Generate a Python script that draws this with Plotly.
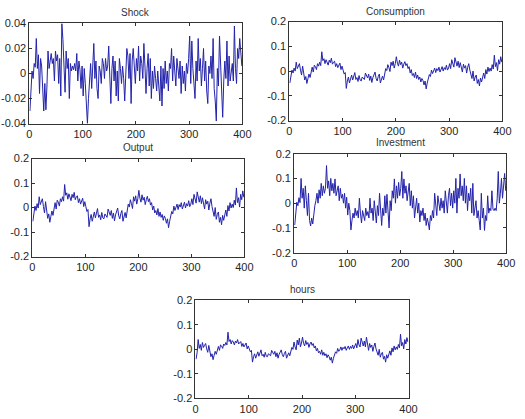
import plotly.graph_objects as go

periods = list(range(1, 400, 2))

shock = [
    -0.030, -0.012, 0.002, -0.004, 0.008, 0.005, 0.028, 0.004, 0.015, -0.016,
    0.012, 0.006, -0.018, -0.030, -0.008, -0.029, -0.010, 0.018, 0.004, 0.010,
    0.016, 0.008, 0.012, -0.006, 0.018, 0.010, 0.015, -0.008, 0.012, -0.018,
    0.040, 0.027, 0.006, -0.015, 0.018, 0.004, 0.012, -0.020, 0.008, 0.002,
    0.006, 0.003, 0.008, 0.002, 0.016, -0.006, 0.010, 0.003, -0.012, 0.006,
    -0.018, 0.004, -0.008, -0.025, -0.040, -0.020, -0.006, 0.008, -0.012, 0.014,
    0.024, -0.004, 0.010, -0.012, -0.020, 0.006, 0.002, -0.008, 0.012, 0.008,
    -0.004, 0.012, 0.002, 0.006, 0.022, -0.002, -0.024, 0.004, 0.014, -0.006,
    0.010, -0.018, 0.002, -0.022, 0.012, 0.004, -0.008, 0.006, -0.004, -0.022,
    0.006, 0.020, 0.014, -0.004, 0.016, -0.024, 0.010, 0.020, 0.006, -0.008,
    0.012, 0.002, 0.022, -0.006, 0.014, 0.008, -0.004, 0.024, 0.006, -0.016,
    0.004, 0.016, -0.010, 0.012, -0.020, 0.002, -0.012, 0.006, -0.004, -0.014,
    0.002, -0.010, -0.022, 0.006, -0.026, 0.004, -0.012, 0.010, -0.008, 0.002,
    -0.014, 0.008, 0.004, 0.020, -0.006, 0.014, 0.002, -0.010, 0.012, 0.004,
    -0.004, 0.010, -0.016, 0.006, -0.008, 0.002, -0.014, 0.008, 0.000, 0.012,
    0.030, -0.008, 0.026, 0.004, -0.012, -0.020, 0.010, -0.006, 0.028, 0.002,
    0.012, -0.010, 0.004, 0.020, -0.006, 0.010, -0.014, -0.024, 0.006, 0.000,
    0.014, -0.004, 0.028, -0.012, -0.022, -0.038, 0.004, -0.010, 0.030, 0.002,
    -0.020, -0.035, -0.006, 0.010, -0.004, 0.026, -0.010, 0.014, -0.006, 0.002,
    0.008, -0.006, 0.038, 0.004, -0.008, 0.020, 0.012, 0.028, 0.016, 0.006,
]

consumption = [
    -0.048, -0.020, 0.004, -0.008, 0.012, 0.000, 0.036, 0.010, 0.022, 0.030,
    0.004, -0.016, 0.020, -0.010, -0.036, -0.022, -0.050, -0.030, -0.012, -0.026,
    0.002, 0.016, -0.004, 0.024, 0.018, 0.006, 0.030, 0.020, 0.036, 0.022,
    0.078, 0.042, 0.050, 0.030, 0.046, 0.038, 0.024, 0.044, 0.034, 0.052,
    0.028, 0.036, 0.040, 0.018, 0.030, 0.014, 0.026, 0.032, 0.006, 0.020,
    0.004, -0.012, -0.006, -0.070, -0.040, -0.024, -0.048, -0.030, -0.016, -0.036,
    -0.022, -0.006, -0.034, -0.026, -0.042, -0.018, -0.036, -0.040, -0.024, -0.030,
    -0.034, -0.008, -0.022, -0.028, -0.012, -0.038, -0.020, -0.046, -0.026, -0.016,
    -0.004, -0.030, -0.040, -0.022, -0.012, -0.048, -0.030, -0.020, -0.036, -0.014,
    0.010, 0.002, 0.026, 0.014, -0.002, 0.036, 0.022, 0.040, 0.012, 0.030,
    0.058, 0.032, 0.020, 0.044, 0.026, 0.036, 0.012, 0.028, 0.038, 0.022,
    0.030, 0.010, 0.018, -0.008, 0.006, -0.018, -0.010, -0.026, -0.004, -0.030,
    -0.016, -0.034, -0.024, -0.044, -0.030, -0.038, -0.056, -0.040, -0.072, -0.048,
    -0.030, -0.014, -0.022, 0.004, -0.010, -0.002, 0.012, -0.006, 0.010, 0.002,
    0.016, -0.004, 0.008, 0.018, 0.000, 0.014, 0.006, 0.024, 0.004, 0.012,
    0.030, 0.010, 0.046, 0.024, 0.016, 0.054, 0.030, 0.020, 0.040, 0.014,
    0.034, 0.020, -0.004, 0.028, 0.012, 0.022, -0.008, 0.016, 0.030, 0.004,
    -0.010, -0.030, 0.000, -0.040, -0.024, -0.016, -0.050, -0.034, -0.060, -0.028,
    -0.044, -0.020, -0.008, -0.030, 0.006, -0.012, 0.016, -0.002, 0.012, 0.000,
    0.026, 0.008, 0.064, 0.018, 0.034, 0.002, 0.046, 0.028, 0.058, 0.036,
]

output = [
    -0.056, -0.022, 0.006, -0.012, 0.016, -0.002, 0.044, 0.012, 0.028, 0.036,
    0.004, -0.022, 0.024, -0.014, -0.044, -0.026, -0.060, -0.036, -0.014, -0.032,
    0.002, 0.020, -0.006, 0.030, 0.022, 0.006, 0.036, 0.024, 0.044, 0.026,
    0.094, 0.050, 0.060, 0.034, 0.056, 0.044, 0.028, 0.054, 0.040, 0.062,
    0.032, 0.044, 0.048, 0.020, 0.036, 0.014, 0.032, 0.038, 0.004, 0.024,
    0.004, -0.016, -0.008, -0.078, -0.046, -0.028, -0.056, -0.034, -0.018, -0.042,
    -0.024, -0.004, -0.040, -0.030, -0.050, -0.020, -0.042, -0.046, -0.026, -0.034,
    -0.040, -0.006, -0.026, -0.032, -0.012, -0.044, -0.022, -0.054, -0.030, -0.016,
    -0.002, -0.034, -0.046, -0.024, -0.012, -0.056, -0.034, -0.020, -0.042, -0.014,
    0.014, 0.002, 0.032, 0.016, -0.004, 0.044, 0.026, 0.048, 0.014, 0.036,
    0.070, 0.038, 0.022, 0.052, 0.030, 0.042, 0.012, 0.032, 0.046, 0.024,
    0.036, 0.010, 0.020, -0.010, 0.006, -0.022, -0.012, -0.030, -0.004, -0.036,
    -0.018, -0.040, -0.028, -0.052, -0.034, -0.044, -0.064, -0.046, -0.082, -0.056,
    -0.034, -0.016, -0.026, 0.006, -0.012, -0.002, 0.014, -0.008, 0.012, 0.002,
    0.020, -0.006, 0.010, 0.022, -0.002, 0.016, 0.006, 0.028, 0.004, 0.014,
    0.036, 0.012, 0.054, 0.028, 0.018, 0.064, 0.034, 0.022, 0.048, 0.016,
    0.040, 0.022, -0.006, 0.032, 0.014, 0.026, -0.010, 0.018, 0.036, 0.004,
    -0.012, -0.036, 0.000, -0.048, -0.028, -0.018, -0.060, -0.040, -0.070, -0.032,
    -0.052, -0.024, -0.010, -0.036, 0.008, -0.014, 0.020, -0.002, 0.014, 0.000,
    0.030, 0.010, 0.080, 0.020, 0.040, 0.002, 0.054, 0.032, 0.068, 0.042,
]

investment = [
    -0.088, -0.030, 0.004, -0.010, 0.022, 0.002, 0.100, 0.020, 0.060, -0.020,
    0.070, 0.010, -0.050, 0.040, -0.070, -0.092, -0.060, -0.084, -0.030, -0.010,
    0.010, 0.040, 0.000, 0.054, 0.020, 0.080, 0.030, 0.070, 0.040, 0.060,
    0.152, 0.060, 0.090, 0.030, 0.100, 0.050, 0.080, 0.040, 0.098, 0.030,
    0.050, 0.070, 0.010, 0.060, 0.020, 0.036, 0.000, 0.040, -0.020, 0.024,
    -0.048, 0.000, -0.030, -0.108, -0.070, -0.040, -0.060, -0.020, -0.050, -0.030,
    -0.060, 0.020, -0.040, -0.080, -0.030, -0.056, -0.070, -0.020, -0.050, -0.034,
    -0.060, 0.020, -0.040, -0.020, -0.070, 0.010, -0.030, -0.080, -0.010, -0.050,
    0.040, -0.060, -0.090, -0.020, -0.050, 0.030, -0.040, 0.036, -0.060, -0.100,
    0.010, -0.030, 0.050, 0.020, 0.098, 0.000, 0.070, 0.020, 0.084, 0.030,
    0.060, 0.128, 0.020, 0.098, 0.040, 0.070, 0.010, 0.060, 0.080, -0.010,
    0.050, -0.020, 0.030, -0.060, -0.010, 0.020, -0.040, 0.000, -0.076, -0.030,
    -0.050, -0.020, -0.070, -0.040, -0.090, -0.060, -0.080, -0.108, -0.050, -0.070,
    -0.030, -0.060, 0.040, -0.020, -0.050, 0.030, 0.000, -0.030, 0.020, -0.020,
    0.010, -0.040, 0.050, 0.000, -0.040, 0.030, 0.060, -0.010, 0.040, -0.020,
    0.050, 0.000, 0.100, -0.040, 0.060, 0.020, 0.118, 0.030, 0.070, 0.010,
    0.100, 0.000, 0.070, -0.030, 0.040, 0.010, 0.060, -0.040, 0.080, -0.050,
    -0.020, 0.010, -0.060, -0.030, -0.070, -0.108, 0.040, -0.060, -0.020, -0.110,
    -0.050, -0.070, 0.030, -0.040, -0.020, -0.030, 0.050, -0.024, -0.030, -0.020,
    -0.030, 0.020, 0.128, 0.000, 0.040, 0.100, 0.020, 0.070, 0.120, 0.050,
]

hours = [
    -0.040, -0.014, 0.040, 0.004, 0.020, -0.004, 0.028, 0.008, 0.016, 0.024,
    0.002, -0.012, 0.016, -0.008, -0.030, -0.018, -0.042, -0.024, -0.008, -0.020,
    0.002, 0.012, -0.004, 0.018, 0.014, 0.004, 0.022, 0.016, 0.028, 0.018,
    0.070, 0.032, 0.040, 0.022, 0.036, 0.030, 0.018, 0.034, 0.026, 0.040,
    0.022, 0.028, 0.032, 0.012, 0.024, 0.010, 0.020, 0.026, 0.002, 0.014,
    0.002, -0.010, -0.004, -0.052, -0.030, -0.018, -0.036, -0.022, -0.010, -0.028,
    -0.016, -0.002, -0.026, -0.020, -0.032, -0.012, -0.028, -0.030, -0.018, -0.022,
    -0.026, -0.004, -0.016, -0.020, -0.008, -0.030, -0.014, -0.036, -0.020, -0.010,
    -0.002, -0.022, -0.030, -0.016, -0.008, -0.036, -0.022, -0.014, -0.026, -0.010,
    0.008, 0.000, 0.030, 0.010, -0.002, 0.038, 0.018, 0.046, 0.010, 0.026,
    0.050, 0.024, 0.014, 0.036, 0.020, 0.028, 0.008, 0.022, 0.030, 0.016,
    0.024, 0.006, 0.014, -0.006, 0.004, -0.014, -0.008, -0.020, -0.002, -0.024,
    -0.012, -0.026, -0.018, -0.034, -0.022, -0.030, -0.044, -0.032, -0.056, -0.036,
    -0.022, -0.010, -0.016, 0.004, -0.008, -0.002, 0.010, -0.004, 0.008, 0.002,
    0.012, -0.004, 0.006, 0.014, 0.000, 0.012, 0.004, 0.018, 0.002, 0.010,
    0.024, 0.006, 0.040, 0.018, 0.010, 0.046, 0.022, 0.014, 0.034, 0.010,
    0.050, 0.016, -0.004, 0.024, 0.008, 0.018, -0.008, 0.012, 0.026, 0.002,
    -0.008, -0.024, 0.000, -0.032, -0.018, -0.012, -0.040, -0.028, -0.052, -0.022,
    -0.036, -0.016, -0.006, -0.024, 0.006, -0.010, 0.014, -0.002, 0.010, 0.000,
    0.020, 0.006, 0.062, 0.014, 0.028, 0.002, 0.040, 0.022, 0.048, 0.030,
]

titles = ["Shock", "Consumption", "Output", "Investment", "hours"]
series = [shock, consumption, output, investment, hours]
x_ticks = [0, 100, 200, 300, 400]
shock_ticks = [-0.04, -0.02, 0, 0.02, 0.04]
shock_labels = ["-0.04", "-0.02", "0", "0.02", "0.04"]
macro_ticks = [-0.2, -0.1, 0, 0.1, 0.2]
macro_labels = ["-0.2", "-0.1", "0", "0.1", "0.2"]

W, H = 525, 419
# pixel boxes: left, right, top, bottom
boxes = [
    (27, 245, 18, 121),
    (293, 511, 16, 118),
    (30, 247, 157, 258),
    (298, 515, 152, 254),
    (197, 415, 303, 404),
]
title_y = [7, 6, 146, 141, 292]

fig = go.Figure()
font = dict(family="Liberation Sans, Arial, sans-serif", size=11, color="#262626")
layout = dict(
    width=W, height=H, margin=dict(l=0, r=0, t=0, b=0),
    paper_bgcolor="white", plot_bgcolor="white", showlegend=False,
    font=font, annotations=[],
)
for i, (name, vals, box) in enumerate(zip(titles, series, boxes)):
    k = "" if i == 0 else str(i + 1)
    fig.add_trace(go.Scatter(
        x=periods, y=vals, mode="lines", xaxis="x" + k, yaxis="y" + k,
        line=dict(color="rgb(35,35,170)", width=1), hoverinfo="skip",
    ))
    l, r, t, b = box
    if i == 0:
        yt, yl, yr = shock_ticks, shock_labels, [-0.04, 0.04]
    else:
        yt, yl, yr = macro_ticks, macro_labels, [-0.2, 0.2]
    common = dict(showline=True, linecolor="#333333", linewidth=1, mirror="ticks",
                  ticks="inside", ticklen=3, tickcolor="#333333", showgrid=False,
                  zeroline=False, tickfont=font)
    layout["xaxis" + k] = dict(domain=[l / W, r / W], range=[0, 400], tickvals=x_ticks,
                               anchor="y" + k, **common)
    layout["yaxis" + k] = dict(domain=[1 - b / H, 1 - t / H], range=yr, tickvals=yt,
                               ticktext=yl, anchor="x" + k, **common)
    layout["annotations"].append(dict(
        text=name, x=(l + r) / 2 / W, y=1 - title_y[i] / H, xref="paper", yref="paper",
        showarrow=False, xanchor="center", yanchor="middle",
        font=dict(family="Liberation Sans, Arial, sans-serif", size=10, color="#333333"),
    ))

fig.update_layout(**layout)
fig.write_html("out.html")
